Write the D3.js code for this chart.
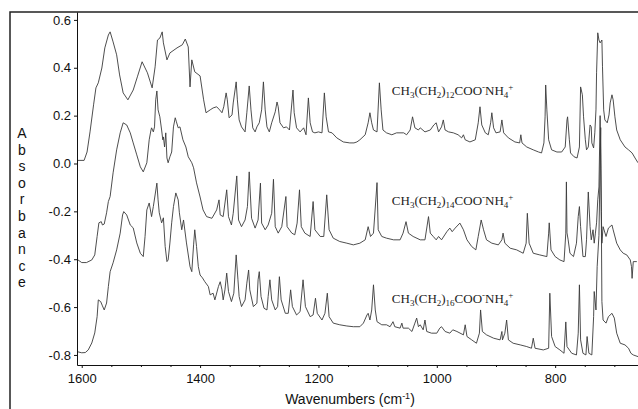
<!DOCTYPE html>
<html>
<head>
<meta charset="utf-8">
<script src="https://cdn.jsdelivr.net/npm/d3@7"></script>
<style>
  body { margin: 0; background: #fff; }
  svg text { font-family: "Liberation Sans", Arial, sans-serif; }
</style>
</head>
<body>
<div id="chart"></div>
<script>
const xTicks = [1600, 1400, 1200, 1000, 800];
const xMinorTicks = [1550, 1500, 1450, 1350, 1300, 1250, 1150, 1100, 1050, 950, 900, 850, 750, 700];
const yTicks = [-0.8, -0.6, -0.4, -0.2, 0.0, 0.2, 0.4, 0.6];
const chainLengths = ["12", "14", "16"];

// [wavenumber, absorbance]
const spectrumC14 = [[1608,0.013],[1596,0.013],[1591,0.048],[1586,0.132],[1580,0.245],[1576,0.316],[1572,0.337],[1566,0.399],[1561,0.483],[1555,0.537],[1552,0.550],[1547,0.508],[1541,0.454],[1536,0.370],[1530,0.295],[1522,0.266],[1513,0.307],[1506,0.362],[1498,0.425],[1489,0.379],[1481,0.316],[1476,0.404],[1472,0.516],[1468,0.524],[1464,0.550],[1462,0.504],[1456,0.433],[1451,0.462],[1439,0.483],[1430,0.496],[1425,0.520],[1420,0.487],[1417,0.320],[1414,0.433],[1409,0.383],[1400,0.366],[1394,0.266],[1390,0.212],[1383,0.224],[1378,0.232],[1372,0.237],[1367,0.224],[1363,0.212],[1360,0.237],[1356,0.295],[1354,0.266],[1351,0.191],[1346,0.203],[1344,0.253],[1339,0.341],[1337,0.266],[1334,0.182],[1330,0.153],[1324,0.132],[1321,0.212],[1317,0.324],[1314,0.224],[1311,0.149],[1307,0.132],[1304,0.153],[1300,0.170],[1296,0.224],[1293,0.341],[1290,0.224],[1287,0.153],[1283,0.132],[1279,0.170],[1273,0.216],[1270,0.257],[1268,0.237],[1265,0.170],[1259,0.149],[1254,0.153],[1249,0.140],[1243,0.307],[1241,0.212],[1237,0.149],[1231,0.132],[1225,0.149],[1221,0.120],[1217,0.274],[1214,0.170],[1210,0.132],[1206,0.128],[1200,0.132],[1194,0.128],[1190,0.295],[1187,0.195],[1183,0.132],[1177,0.128],[1169,0.107],[1158,0.090],[1147,0.086],[1140,0.086],[1135,0.090],[1130,0.099],[1121,0.120],[1116,0.170],[1113,0.212],[1110,0.170],[1107,0.140],[1101,0.132],[1097,0.337],[1094,0.224],[1091,0.140],[1085,0.128],[1076,0.120],[1068,0.128],[1056,0.128],[1051,0.120],[1045,0.140],[1041,0.195],[1037,0.149],[1031,0.140],[1028,0.149],[1020,0.132],[1011,0.140],[1005,0.161],[1001,0.170],[997,0.132],[992,0.153],[989,0.182],[986,0.140],[980,0.132],[972,0.128],[964,0.120],[958,0.107],[955,0.120],[952,0.099],[944,0.090],[935,0.099],[930,0.170],[927,0.237],[924,0.161],[918,0.128],[913,0.120],[909,0.170],[907,0.212],[904,0.149],[900,0.128],[893,0.132],[890,0.182],[887,0.128],[879,0.107],[868,0.090],[860,0.086],[858,0.120],[856,0.086],[848,0.069],[837,0.057],[828,0.048],[823,0.044],[819,0.086],[817,0.195],[816,0.328],[814,0.224],[811,0.099],[806,0.057],[797,0.048],[789,0.048],[783,0.069],[780,0.182],[779,0.195],[776,0.099],[774,0.044],[768,0.028],[763,0.023],[759,0.069],[757,0.320],[754,0.287],[752,0.195],[749,0.099],[747,0.057],[744,0.069],[741,0.161],[739,0.153],[738,0.086],[735,0.065],[733,0.128],[731,0.224],[730,0.379],[728,0.546],[726,0.516],[724,0.504],[721,0.516],[720,0.404],[718,0.224],[716,0.182],[712,0.170],[709,0.203],[707,0.253],[704,0.287],[702,0.266],[699,0.195],[696,0.140],[690,0.099],[682,0.069],[676,0.057],[670,0.044],[665,0.023],[660,0.003]];

const spectrumC16 = [[1608,-0.400],[1600,-0.414],[1592,-0.414],[1583,-0.403],[1578,-0.382],[1574,-0.305],[1571,-0.248],[1567,-0.243],[1565,-0.257],[1562,-0.253],[1558,-0.206],[1555,-0.159],[1552,-0.138],[1547,-0.039],[1541,0.057],[1535,0.128],[1530,0.170],[1524,0.161],[1518,0.128],[1513,0.086],[1507,0.036],[1501,-0.014],[1496,-0.035],[1490,0.003],[1486,0.099],[1483,0.140],[1482,0.149],[1479,0.132],[1477,0.153],[1475,0.266],[1473,0.303],[1471,0.224],[1468,0.195],[1465,0.140],[1463,0.099],[1462,0.111],[1460,0.069],[1458,0.128],[1456,0.023],[1454,0.003],[1451,0.028],[1448,0.048],[1445,0.153],[1442,0.191],[1440,0.174],[1437,0.149],[1434,0.153],[1429,0.099],[1424,0.069],[1420,0.028],[1414,0.003],[1411,-0.018],[1406,-0.081],[1400,-0.140],[1395,-0.194],[1389,-0.222],[1380,-0.229],[1372,-0.194],[1368,-0.152],[1366,-0.215],[1361,-0.222],[1355,-0.110],[1352,-0.222],[1347,-0.257],[1344,-0.208],[1338,-0.052],[1335,-0.236],[1330,-0.264],[1324,-0.236],[1320,-0.180],[1317,-0.035],[1313,-0.229],[1307,-0.270],[1302,-0.236],[1298,-0.082],[1296,-0.249],[1290,-0.277],[1285,-0.257],[1279,-0.208],[1276,-0.066],[1273,-0.264],[1268,-0.291],[1262,-0.264],[1255,-0.138],[1253,-0.264],[1245,-0.291],[1240,-0.298],[1236,-0.249],[1232,-0.110],[1229,-0.264],[1223,-0.291],[1214,-0.305],[1209,-0.159],[1206,-0.277],[1197,-0.305],[1191,-0.305],[1186,-0.131],[1182,-0.277],[1175,-0.312],[1164,-0.326],[1152,-0.333],[1141,-0.340],[1130,-0.333],[1121,-0.319],[1116,-0.264],[1112,-0.305],[1107,-0.291],[1101,-0.080],[1099,-0.277],[1093,-0.305],[1085,-0.312],[1073,-0.319],[1062,-0.319],[1057,-0.291],[1052,-0.243],[1048,-0.291],[1040,-0.305],[1028,-0.319],[1020,-0.319],[1014,-0.222],[1011,-0.291],[1006,-0.305],[1001,-0.319],[997,-0.305],[992,-0.319],[983,-0.285],[978,-0.270],[974,-0.285],[969,-0.270],[961,-0.249],[955,-0.277],[949,-0.319],[941,-0.347],[934,-0.361],[930,-0.305],[925,-0.236],[921,-0.277],[916,-0.319],[907,-0.333],[896,-0.340],[890,-0.319],[888,-0.291],[885,-0.333],[876,-0.354],[865,-0.361],[854,-0.375],[849,-0.333],[847,-0.208],[844,-0.333],[837,-0.375],[826,-0.382],[814,-0.389],[811,-0.291],[810,-0.248],[807,-0.361],[800,-0.389],[792,-0.403],[785,-0.410],[782,-0.291],[781,-0.077],[780,-0.290],[778,-0.319],[775,-0.375],[769,-0.389],[764,-0.333],[761,-0.222],[759,-0.180],[757,-0.264],[753,-0.389],[749,-0.389],[747,-0.319],[744,-0.119],[741,-0.264],[739,-0.319],[736,-0.277],[734,-0.333],[732,-0.291],[730,-0.248],[728,-0.152],[726,-0.098],[724,0.200],[722,-0.200],[721,-0.333],[719,-0.264],[714,-0.305],[710,-0.270],[704,-0.257],[702,-0.277],[696,-0.333],[690,-0.361],[685,-0.375],[679,-0.382],[673,-0.403],[671,-0.431],[670,-0.480],[668,-0.410],[662,-0.410]];

const spectrumC18 = [[1608,-0.786],[1600,-0.791],[1594,-0.790],[1589,-0.779],[1583,-0.750],[1578,-0.708],[1574,-0.640],[1572,-0.570],[1568,-0.577],[1565,-0.595],[1562,-0.612],[1558,-0.583],[1555,-0.514],[1552,-0.452],[1547,-0.415],[1541,-0.361],[1535,-0.291],[1531,-0.215],[1529,-0.201],[1524,-0.215],[1518,-0.257],[1513,-0.269],[1507,-0.332],[1501,-0.375],[1496,-0.389],[1493,-0.305],[1490,-0.194],[1486,-0.165],[1482,-0.222],[1479,-0.180],[1473,-0.082],[1471,-0.152],[1469,-0.206],[1465,-0.248],[1462,-0.227],[1459,-0.347],[1456,-0.410],[1454,-0.403],[1451,-0.332],[1448,-0.248],[1445,-0.180],[1441,-0.123],[1437,-0.152],[1435,-0.206],[1431,-0.277],[1428,-0.236],[1423,-0.332],[1417,-0.431],[1414,-0.452],[1411,-0.340],[1409,-0.277],[1406,-0.347],[1403,-0.431],[1400,-0.466],[1396,-0.478],[1392,-0.494],[1386,-0.514],[1383,-0.549],[1378,-0.542],[1375,-0.570],[1369,-0.514],[1366,-0.494],[1363,-0.528],[1361,-0.570],[1358,-0.528],[1355,-0.458],[1352,-0.535],[1347,-0.577],[1343,-0.542],[1339,-0.382],[1336,-0.486],[1334,-0.556],[1330,-0.598],[1324,-0.570],[1321,-0.500],[1318,-0.445],[1316,-0.528],[1310,-0.598],[1304,-0.584],[1302,-0.486],[1300,-0.452],[1297,-0.556],[1292,-0.605],[1287,-0.612],[1285,-0.556],[1282,-0.486],[1279,-0.570],[1273,-0.612],[1269,-0.598],[1266,-0.473],[1263,-0.570],[1256,-0.626],[1251,-0.626],[1247,-0.528],[1244,-0.598],[1237,-0.633],[1231,-0.619],[1226,-0.486],[1222,-0.598],[1214,-0.640],[1209,-0.633],[1205,-0.563],[1202,-0.626],[1194,-0.654],[1189,-0.626],[1185,-0.542],[1182,-0.640],[1175,-0.667],[1164,-0.674],[1152,-0.679],[1141,-0.682],[1130,-0.682],[1124,-0.667],[1118,-0.633],[1116,-0.626],[1113,-0.654],[1110,-0.612],[1107,-0.507],[1104,-0.612],[1101,-0.661],[1093,-0.674],[1085,-0.674],[1079,-0.682],[1074,-0.661],[1071,-0.682],[1062,-0.688],[1059,-0.667],[1057,-0.688],[1048,-0.688],[1042,-0.702],[1037,-0.667],[1034,-0.646],[1031,-0.682],[1028,-0.674],[1023,-0.695],[1020,-0.654],[1017,-0.702],[1009,-0.709],[1000,-0.709],[995,-0.688],[992,-0.682],[986,-0.702],[978,-0.709],[973,-0.695],[966,-0.702],[955,-0.716],[952,-0.674],[949,-0.723],[941,-0.737],[933,-0.751],[928,-0.709],[926,-0.612],[923,-0.702],[916,-0.716],[904,-0.730],[893,-0.737],[890,-0.702],[889,-0.737],[885,-0.709],[882,-0.654],[879,-0.737],[871,-0.751],[859,-0.758],[848,-0.765],[840,-0.772],[837,-0.730],[834,-0.772],[820,-0.779],[811,-0.772],[809,-0.542],[806,-0.723],[800,-0.765],[792,-0.779],[785,-0.793],[782,-0.662],[780,-0.765],[772,-0.793],[764,-0.800],[761,-0.709],[759,-0.507],[757,-0.737],[753,-0.793],[748,-0.800],[746,-0.723],[743,-0.793],[738,-0.800],[735,-0.640],[734,-0.535],[731,-0.612],[729,-0.431],[726,-0.300],[723,0.150],[721,-0.577],[719,-0.654],[714,-0.667],[710,-0.640],[704,-0.626],[700,-0.646],[696,-0.709],[690,-0.751],[682,-0.758],[676,-0.772],[672,-0.793],[668,-0.800],[660,-0.807]];

const width = 638, height = 409;
const margin = { top: 12, right: 0, bottom: 44, left: 77 };

const x = d3.scaleLinear().domain([1608, 660]).range([margin.left, width - margin.right]);
const y = d3.scaleLinear().domain([-0.842, 0.633]).range([height - margin.bottom, margin.top]);

const svg = d3.select("#chart").append("svg")
  .attr("width", width)
  .attr("height", height);

// outer frame (left + top)
svg.append("path")
  .attr("d", `M10,${height} L10,12 L${width},12`)
  .attr("fill", "none")
  .attr("stroke", "#222")
  .attr("stroke-width", 1.5);

// traces
const line = d3.line().x(d => x(d[0])).y(d => y(d[1]));
[spectrumC14, spectrumC16, spectrumC18].forEach(s => {
  svg.append("path")
    .attr("d", line(s))
    .attr("fill", "none")
    .attr("stroke", "#3a3a3a")
    .attr("stroke-width", 0.9)
    .attr("stroke-linejoin", "round");
});

// x axis
svg.append("g")
  .attr("transform", `translate(0,${height - margin.bottom})`)
  .call(d3.axisBottom(x).tickValues(xTicks).tickSize(3).tickSizeOuter(0).tickPadding(6).tickFormat(d3.format("d")));
svg.append("g")
  .attr("transform", `translate(0,${height - margin.bottom})`)
  .call(d3.axisBottom(x).tickValues(xMinorTicks).tickSize(2).tickSizeOuter(0).tickFormat(""))
  .select(".domain").remove();

// y axis
svg.append("g")
  .attr("transform", `translate(${margin.left},0)`)
  .call(d3.axisLeft(y).tickValues(yTicks).tickSize(3).tickSizeOuter(0).tickPadding(3).tickFormat(d => d.toFixed(1)));

svg.selectAll(".tick text").attr("font-size", 13).attr("fill", "#111");
svg.selectAll(".domain, .tick line").attr("stroke", "#111");

// axis titles
const xTitle = svg.append("text")
  .attr("x", 350)
  .attr("y", 404)
  .attr("text-anchor", "middle")
  .attr("font-size", 14)
  .attr("fill", "#111");
xTitle.append("tspan").text("Wavenumbers (cm");
xTitle.append("tspan").attr("dy", -5).attr("font-size", 9).text("-1");
xTitle.append("tspan").attr("dy", 5).text(")");

"Absorbance".split("").forEach((ch, i) => {
  svg.append("text")
    .attr("x", 22)
    .attr("y", 138 + i * 16.6)
    .attr("text-anchor", "middle")
    .attr("font-size", 14)
    .attr("fill", "#111")
    .text(ch);
});

// compound labels
const labelY = [0.287, -0.173, -0.582];
chainLengths.forEach((n, i) => {
  const parts = [["CH", 0], ["3", 1], ["(CH", 0], ["2", 1], [")", 0], [n, 1], ["COO", 0], ["-", -1], ["NH", 0], ["4", 1], ["+", -1]];
  const t = svg.append("text")
    .attr("x", x(1076))
    .attr("y", y(labelY[i]))
    .attr("font-family", "'Liberation Serif', 'Times New Roman', serif")
    .attr("font-size", 13)
    .attr("fill", "#222");
  let shift = 0;
  parts.forEach(([s, k]) => {
    const target = k === 1 ? 3 : k === -1 ? -5 : 0;
    t.append("tspan")
      .attr("dy", target - shift)
      .attr("font-size", k === 0 ? 13 : 9)
      .style("font-family", "'Liberation Serif', 'Times New Roman', serif")
      .text(s);
    shift = target;
  });
});
</script>
</body>
</html>
